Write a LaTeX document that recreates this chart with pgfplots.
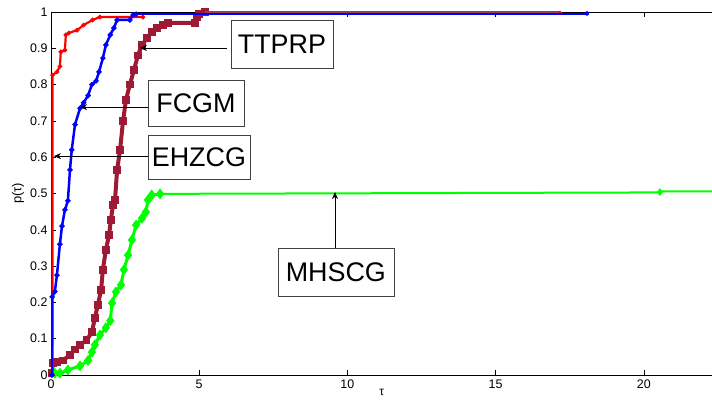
\documentclass[border=0pt]{standalone}
\usepackage{pgfplots}
\pgfplotsset{compat=1.18}
\usetikzlibrary{arrows.meta}
\usepackage{fontspec}
\setmainfont{Liberation Sans}
\definecolor{maroon}{RGB}{158,26,52}
\begin{document}
\begin{tikzpicture}[x=1bp,y=1bp]
\useasboundingbox (0,0) rectangle (712,400);
\begin{axis}[
  at={(51bp,25bp)}, anchor=south west,
  scale only axis, width=661bp, height=363bp,
  xmin=0, xmax=22.3, ymin=0, ymax=1,
  separate axis lines,
  axis x line*=box, axis y line*=left,
  xtick={0,5,10,15,20}, ytick={0,0.1,...,1},
  yticklabels={0,0.1,0.2,0.3,0.4,0.5,0.6,0.7,0.8,0.9,1},
  tick align=inside, major tick length=5bp,
  tick style={black, line width=0.6pt},
  axis line style={black, line width=0.8pt},
  /pgf/number format/assume math mode=true,
  tick label style={font=\fontsize{12.5}{14}\selectfont},
  xticklabel style={yshift=-1bp},
  clip mode=individual,
]
% TTPRP (maroon)
\addplot[maroon, line width=4bp, mark=square*, mark size=1.8bp, mark options={solid}] coordinates {
(0.02,0.005) (0.07,0.033) (0.2,0.036) (0.4,0.04) (0.64,0.055) (0.8,0.07) (0.98,0.083) (1.2,0.096) (1.38,0.118) (1.48,0.157) (1.58,0.193) (1.69,0.234) (1.75,0.29) (1.85,0.344) (1.96,0.386) (2.02,0.427) (2.09,0.468) (2.16,0.482) (2.23,0.565) (2.33,0.62) (2.43,0.70) (2.53,0.758) (2.66,0.80) (2.8,0.84) (2.93,0.88) (3.07,0.909) (3.24,0.928) (3.41,0.945) (3.58,0.956) (3.78,0.964) (3.95,0.97) (4.86,0.97) (4.92,0.986) (5.0,0.994) (5.2,1.0)};
\addplot[maroon!60!gray, line width=2.5bp] coordinates {(5.2,0.998) (17.17,0.998)};
% MHSCG (green)
\addplot[green, line width=3bp, mark=diamond*, mark size=3bp] coordinates {
(0.13,0.005) (0.3,0.005) (0.57,0.014) (0.98,0.025) (1.25,0.04) (1.38,0.063) (1.48,0.083) (1.65,0.11) (1.85,0.13) (2.0,0.15) (2.06,0.198) (2.19,0.229) (2.36,0.248) (2.46,0.29) (2.6,0.33) (2.73,0.372) (2.87,0.413) (3.07,0.432) (3.2,0.449) (3.27,0.482) (3.4,0.496) (3.68,0.499)};
\addplot[green, line width=2bp] coordinates {(3.68,0.499) (20.54,0.503) (20.54,0.506) (23,0.506)};
\addplot[green, only marks, mark=diamond*, mark size=3.5bp] coordinates {(20.54,0.504)};
% EHZCG (red)
\addplot[red, line width=2.2bp, mark=*, mark size=1bp] coordinates {
(0.05,0) (0.05,0.826) (0.2,0.835) (0.3,0.85) (0.33,0.89) (0.47,0.895) (0.5,0.937) (0.6,0.942) (0.88,0.95) (1.1,0.964) (1.4,0.978) (1.65,0.986) (3.1,0.986)};
\addplot[red, only marks, mark=*, mark size=1.8bp] coordinates {(17.17,0.998)};
% FCGM (blue)
\addplot[blue, line width=2.5bp, mark=*, mark size=1.2bp] coordinates {
(0.03,0) (0.04,0.215) (0.13,0.23) (0.2,0.275) (0.3,0.36) (0.37,0.41) (0.47,0.455) (0.57,0.48) (0.64,0.565) (0.7,0.62) (0.81,0.69) (0.98,0.735) (1.1,0.75) (1.25,0.77) (1.38,0.8) (1.52,0.81) (1.62,0.835) (1.75,0.873) (1.85,0.909) (2.0,0.937) (2.12,0.956) (2.23,0.978) (2.66,0.978) (2.77,0.992) (2.87,0.994)};
\addplot[blue, line width=1.8bp] coordinates {(2.87,0.994) (18.08,0.994)};
\addplot[blue, only marks, mark=*, mark size=2bp] coordinates {(18.08,0.996)};
% annotations
\begin{scope}[every node/.style={draw=black!75, line width=0.6pt, fill=white, inner sep=0pt, font=\fontsize{27}{30}\selectfont}]
\node[minimum width=102bp, minimum height=48bp] (t) at (axis cs:7.79,0.912) {TTPRP};
\node[minimum width=96bp, minimum height=46bp] (f) at (axis cs:4.89,0.749) {FCGM};
\node[minimum width=102bp, minimum height=44bp] (e) at (axis cs:4.99,0.6) {EHZCG};
\node[minimum width=116bp, minimum height=48bp] (m) at (axis cs:9.61,0.284) {MHSCG};
\end{scope}
\draw[-{Stealth[length=7bp,width=6bp]}, black, line width=0.6pt] (axis cs:5.94,0.901) -- (axis cs:3.0,0.901);
\draw[-{Stealth[length=7bp,width=6bp]}, black, line width=0.6pt] (axis cs:3.27,0.738) -- (axis cs:0.98,0.738);
\draw[-{Stealth[length=7bp,width=6bp]}, black, line width=0.6pt] (axis cs:3.27,0.603) -- (axis cs:0.1,0.603);
\draw[-{Stealth[length=7bp,width=6bp]}, black, line width=0.6pt] (axis cs:9.58,0.35) -- (axis cs:9.58,0.504);
\node[rotate=90, font=\fontsize{13}{15}\selectfont] at (axis cs:-1.11,0.5) {p(τ)};
\node[font=\fontsize{12}{14}\selectfont] at (axis cs:11.16,-0.048) {τ};
\end{axis}
\end{tikzpicture}
\end{document}
